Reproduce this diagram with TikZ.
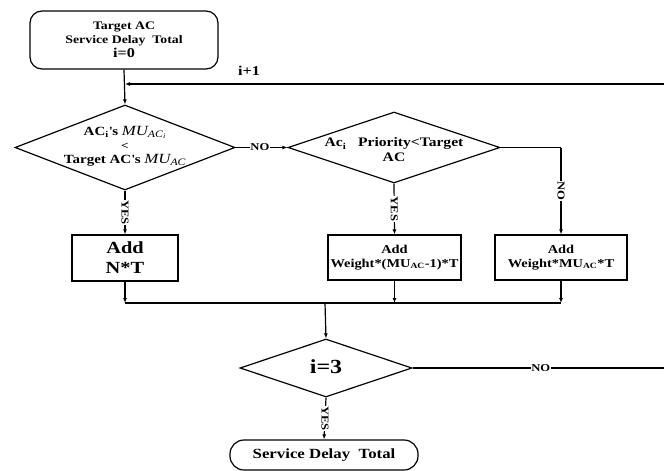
\documentclass[tikz,border=0pt]{standalone}
\usepackage{fontspec}
\setmainfont{Liberation Serif}[FakeStretch=1.2]
\usetikzlibrary{shapes.geometric,arrows.meta}
\begin{document}
\begin{tikzpicture}[x=1pt,y=-1pt, line width=1.2pt, >={Latex[length=5pt,width=4pt]},
  box/.style={draw, rectangle, inner sep=0pt, align=center, font=\bfseries},
  dia/.style={draw, diamond, inner sep=0pt},
  txt/.style={inner sep=0pt, align=center, font=\bfseries},
  term/.style={draw, rectangle, inner sep=0pt, align=center, font=\bfseries},
  lbl/.style={fill=white, inner sep=0.5pt, font=\bfseries\fontsize{10.5}{10.5}\selectfont},
  vlbl/.style={lbl, rotate=-90}]
\useasboundingbox (0,0) rectangle (664,471);

% start terminator
\node[term, rounded corners=12pt, minimum width=188pt, minimum height=58pt,
  font=\bfseries\fontsize{11.5}{14}\selectfont] (start) at (124,40)
  {Target AC\\Service Delay~~Total\\{\fontsize{13.5}{13.5}\selectfont i=0}};

% decision 1
\node[dia, minimum width=220pt, minimum height=85pt] (d1) at (125,147.5) {};
\node[txt, font=\bfseries\fontsize{12.5}{13}\selectfont] (d1t) at (125,146)
  {AC\textsubscript{i}\textquotesingle s {\mdseries\itshape\fontsize{14}{13}\selectfont MU\textsubscript{AC\textsubscript{i}}}\\[1pt]
   {\fontsize{11}{11}\selectfont <}\\[1pt]
   Target AC\textquotesingle s {\mdseries\itshape\fontsize{14}{13}\selectfont MU\textsubscript{AC}}};

% decision 2
\node[dia, minimum width=212pt, minimum height=71pt] (d2) at (394,147.5) {};
\node[txt, font=\bfseries\fontsize{13}{15}\selectfont] (d2t) at (394,150)
  {Ac\textsubscript{i}~~~Priority<Target\\AC};

% boxes
\node[box, minimum width=106pt, minimum height=46pt,
  font=\bfseries\fontsize{17}{20}\selectfont] (b1) at (125,258) {Add\\N*T};
\node[box, minimum width=133pt, minimum height=45pt,
  font=\bfseries\fontsize{12}{13.5}\selectfont] (b2) at (394.5,257.5)
  {Add\\Weight*(MU\textsubscript{AC}-1)*T};
\node[box, minimum width=132pt, minimum height=45pt,
  font=\bfseries\fontsize{12}{13.5}\selectfont] (b3) at (561,257.5)
  {Add\\Weight*MU\textsubscript{AC}*T};

% decision 3
\node[dia, minimum width=172pt, minimum height=58pt] (d3) at (326,368) {};
\node[txt, font=\bfseries\fontsize{20}{20}\selectfont] (d3t) at (326,367) {i=3};

% end terminator
\node[term, rounded corners=14pt, minimum width=188pt, minimum height=30pt,
  font=\bfseries\fontsize{14}{14}\selectfont] (end) at (324,455) {Service Delay~~Total};

% coordinates
\coordinate (fbR) at (664,84);
\coordinate (fbL) at (125,84);
\coordinate (c2) at (561,147.5);
\coordinate (m1) at (125,303);
\coordinate (m2) at (394.5,303);
\coordinate (m3) at (561,303);
\coordinate (mc) at (325,303);
\coordinate (noR) at (664,368);

% connectors
\draw[->] (start.south) -- (d1.north);
\draw[->] (fbR) -- (fbL);
\node[font=\bfseries\fontsize{13.5}{13.5}\selectfont] (inc) at (249,71) {i+1};

\draw[->] (d1.south) -- node[vlbl, pos=0.5] {YES} (b1.north);
\draw[->] (d1.east) -- node[lbl, pos=0.47] {NO} (d2.west);
\draw[->] (d2.south) -- node[vlbl, pos=0.5] {YES} (b2.north);
\draw (d2.east) -- (c2);
\draw[->] (c2) -- node[vlbl, pos=0.5] {NO} (b3.north);

\draw[->] (b1.south) -- (m1);
\draw[->] (b2.south) -- (m2);
\draw[->] (b3.south) -- (m3);
\draw (m1) -- (m3);
\draw[->] (mc) -- (d3.north);

\draw (d3.east) -- node[lbl, pos=0.51] {NO} (noR);
\draw[->] (d3.south) -- node[vlbl, pos=0.5] {YES} (end.north);
\end{tikzpicture}
\end{document}
